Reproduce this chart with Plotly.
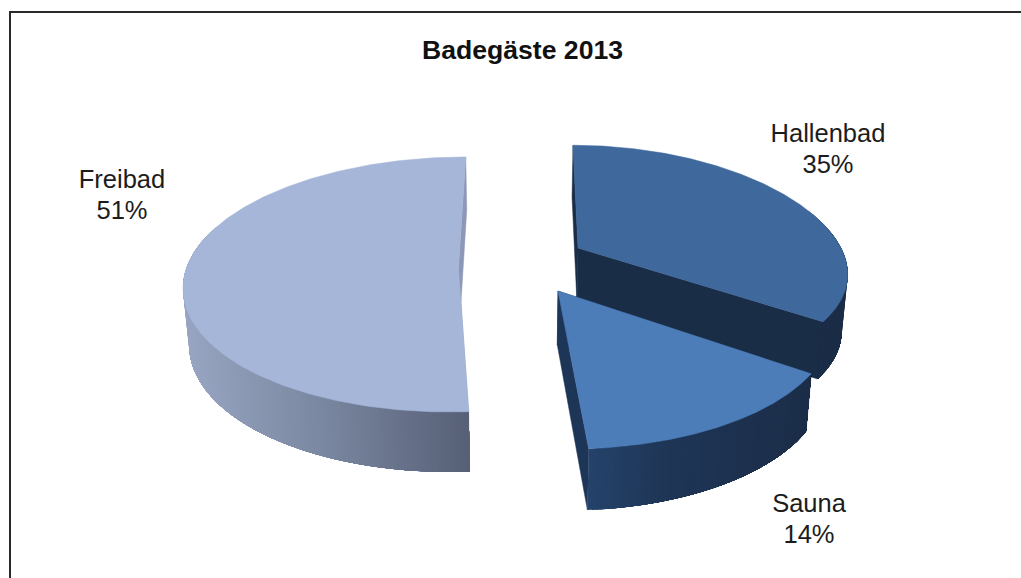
import numpy as np
import plotly.graph_objects as go

# Besucheranteile in Prozent, im Uhrzeigersinn ab 12 Uhr
categories = ["Hallenbad", "Sauna", "Freibad"]
shares = [35, 14, 51]
chart_title = "Badegäste 2013"

WIDTH, HEIGHT = 1021, 578
FONT = "Liberation Sans"
TEXT_COLOR = "#1c1c1c"

# Projektion je Segment: Spitze, Halbachsen, Perspektive (y und x), Scherung, Tiefe
projection = {
    "Hallenbad": dict(cx=578.0, cy=248.0, a=263, b=116, p=0.129, px=0.2, s=-6.0, depth=55),
    "Sauna": dict(cx=558.0, cy=291.0, a=266, b=122, p=0.228, px=0.228, s=-7.0, depth=54),
    "Freibad": dict(cx=458.5, cy=268.0, a=272, b=125.4, p=0.129, px=0.129, s=8.2, depth=56),
}
# Flächenfarben und Verlauf der Außenwand (links nach rechts)
face_colors = {"Hallenbad": "#3f689c", "Sauna": "#4c7db9", "Freibad": "#a6b6d8"}
radial_colors = {"Hallenbad": "#1a2d47", "Sauna": "#1d3557", "Freibad": "#8d97b6"}
wall_colors = {
    "Hallenbad": [(590, (28, 48, 78)), (850, (26, 44, 70))],
    "Sauna": [(590, (36, 66, 106)), (660, (31, 54, 87)), (810, (27, 45, 72))],
    "Freibad": [(185, (152, 165, 194)), (320, (122, 135, 160)), (471, (85, 94, 117))],
}
# Beschriftungen: Mittelpunkte von Name und Prozentzeile
label_pos = {
    "Hallenbad": (828, 136, 167),
    "Sauna": (809, 506, 537),
    "Freibad": (122, 182, 213),
}
VANISH_X = 520.0
WALL_VISIBLE_COS = 0.35
WALL_STRIPS = {"Hallenbad": 60, "Sauna": 70, "Freibad": 220}


def rim(cfg, theta):
    """Obere Kante des Segments für Winkel theta (Bogenmaß, ab 12 Uhr)."""
    w = 1.0 / (1.0 + cfg["p"] * np.cos(theta))
    wx = 1.0 / (1.0 + cfg["px"] * np.cos(theta))
    x = cfg["cx"] + (cfg["a"] * np.sin(theta) + cfg["s"] * np.cos(theta)) * wx
    y = cfg["cy"] - cfg["b"] * np.cos(theta) * w
    return x, y, w


def lower(cfg, x, y, w):
    """Punkt auf der Unterseite der Scheibe unter (x, y)."""
    return x + (VANISH_X - x) * 0.018, y + cfg["depth"] * np.sqrt(w)


def blend(stops, x):
    xs = [s[0] for s in stops]
    rgb = [np.interp(x, xs, [s[1][i] for s in stops]) for i in range(3)]
    return "rgb(%d,%d,%d)" % tuple(int(round(c)) for c in rgb)


def polygon(xs, ys, color, edge=0.5):
    return go.Scatter(
        x=list(xs), y=list(ys), mode="lines", fill="toself", fillcolor=color,
        line=dict(color=color, width=edge), hoverinfo="skip", showlegend=False,
    )


# Winkelbereiche aus den Anteilen
edges = np.concatenate([[0.0], np.cumsum(shares)]) / float(sum(shares)) * 2 * np.pi
spans = {c: (edges[i], edges[i + 1]) for i, c in enumerate(categories)}

fig = go.Figure()

# Von hinten nach vorn zeichnen: Freibad, Hallenbad, Sauna
for name in ["Freibad", "Hallenbad", "Sauna"]:
    cfg = projection[name]
    t0, t1 = spans[name]

    # Schnittflächen an der Spitze
    ax, ay = cfg["cx"], cfg["cy"]
    bx, by = lower(cfg, ax, ay, 1.0)
    for t in (t0, t1):
        x, y, w = rim(cfg, t)
        xb, yb = lower(cfg, x, y, w)
        fig.add_trace(polygon([ax, x, xb, bx, ax], [ay, y, yb, by, ay], radial_colors[name]))

    # Außenwand als überlappende Streifen mit Farbverlauf (von links nach rechts gemalt)
    ts = np.linspace(t0, t1, WALL_STRIPS[name])
    ts = ts[np.cos(ts) < WALL_VISIBLE_COS]
    xs_all, _, _ = rim(cfg, ts)
    if xs_all[0] > xs_all[-1]:
        ts = ts[::-1]
    for i in range(len(ts) - 1):
        # Jeder Streifen reicht bis zum rechten Wandende; der nächste überdeckt ihn
        tail = np.linspace(ts[i], ts[-1], 30)
        xt, yt, wt = rim(cfg, tail)
        xtb, ytb = lower(cfg, xt, yt, wt)
        fig.add_trace(polygon(np.r_[xt, xtb[::-1], xt[0]], np.r_[yt, ytb[::-1], yt[0]],
                              blend(wall_colors[name], xt[0]), edge=0))

    # Deckfläche
    ts = np.linspace(t0, t1, 240)
    xs, ys, _ = rim(cfg, ts)
    fig.add_trace(polygon(np.r_[ax, xs, ax], np.r_[ay, ys, ay], face_colors[name]))

# Beschriftung: Name und Prozentwert
for name, share in zip(categories, shares):
    lx, ly_name, ly_pct = label_pos[name]
    fig.add_trace(go.Scatter(
        x=[lx, lx], y=[ly_name, ly_pct], mode="text",
        text=[name, f"{share}%"], textposition="middle center",
        textfont=dict(family=FONT, size=25.5, color=TEXT_COLOR),
        hoverinfo="skip", showlegend=False,
    ))

fig.update_layout(
    width=WIDTH, height=HEIGHT,
    margin=dict(l=0, r=0, t=0, b=0),
    paper_bgcolor="white", plot_bgcolor="white",
    showlegend=False,
    title=dict(
        text=f"<b>{chart_title}</b>", x=522.5 / WIDTH, y=1 - 50 / HEIGHT,
        xanchor="center", yanchor="middle",
        font=dict(family=FONT, size=26.6, color="#111111"),
    ),
    xaxis=dict(range=[0, WIDTH], visible=False, fixedrange=True),
    yaxis=dict(range=[HEIGHT, 0], visible=False, fixedrange=True),
    # Diagrammrahmen: links und oben
    shapes=[
        dict(type="line", x0=10, x1=10, y0=12, y1=HEIGHT, line=dict(color="#2a2a2a", width=2)),
        dict(type="line", x0=9, x1=WIDTH, y0=12, y1=12, line=dict(color="#2a2a2a", width=2)),
    ],
)

fig.write_html("out.html", config={"displayModeBar": False})
